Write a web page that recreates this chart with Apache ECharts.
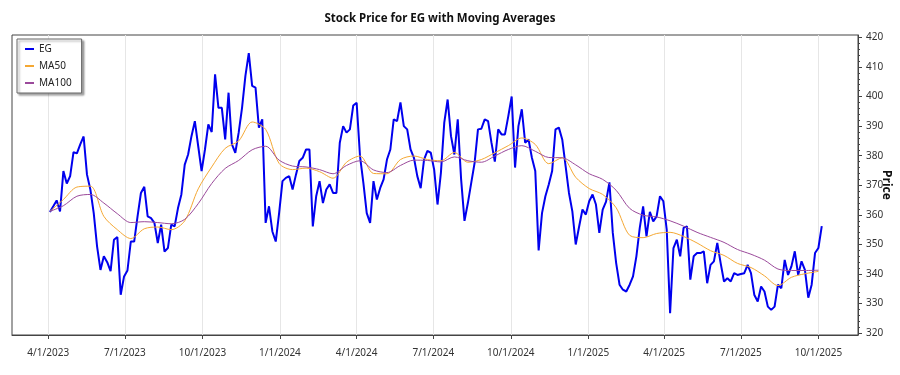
<!DOCTYPE html>
<html>
<head>
<meta charset="utf-8">
<title>Stock Price for EG with Moving Averages</title>
<script src="https://cdn.jsdelivr.net/npm/echarts@6/dist/echarts.min.js"></script>
<style>
  html, body { margin: 0; padding: 0; background: #fff; }
  #chart { width: 900px; height: 375px; }
</style>
</head>
<body>
<div id="chart"></div>
<script>
// EG close, every 4 days starting 2023-04-03
const priceStart = [2023, 4, 3]
const priceStepDays = 4
const priceValues = [
  361, 362.9, 364.9, 361.2, 374.8, 370.6, 373.1, 381.2, 380.8, 383.8,
  386.5, 373.6, 368.6, 360.6, 349.3, 341.4, 346, 344, 341, 351.6,
  352.5, 333, 339.2, 341.2, 351, 351, 359.5, 367.4, 369.5, 359.5,
  358.9, 357.3, 350.5, 356.7, 347.6, 348.8, 356.7, 356.1, 362.3, 366.9,
  377, 380.4, 386.6, 391.7, 383.2, 374.8, 382.1, 390.6, 388, 407.5,
  396.2, 396.2, 385.5, 401.3, 383.8, 381, 387.8, 396.2, 407, 414.7,
  403.6, 403, 389.5, 392.3, 357.3, 362.9, 354.4, 351, 360.6, 371.4,
  372.5, 373.1, 368.6, 373.6, 378.2, 379.3, 382.1, 382.1, 356.1, 366.3,
  371.4, 364, 368.6, 370.3, 367.4, 367.4, 384.4, 390, 387.8, 388.9,
  397, 397.9, 379.9, 370.8, 360.6, 357.3, 371.4, 365.2, 369.1, 372,
  378.7, 382.1, 392.3, 391.7, 398, 390, 388.9, 382.1, 379.3, 373.1,
  369, 378.7, 381.6, 381, 375.3, 363.5, 374.2, 391.2, 399, 386.6,
  380.4, 392.3, 372, 358, 364, 370.8, 377.6, 388.9, 389.1, 392.3,
  391.7, 384.4, 378, 388.9, 387.2, 387.2, 393.4, 400, 376, 390,
  395.7, 384.4, 385.5, 379.3, 374.8, 348, 360.6, 366.3, 370.3, 374.8,
  388.9, 389.5, 385.5, 376.5, 367.4, 361.2, 350, 356, 361.8, 360.1,
  364.6, 366.9, 363.5, 353.9, 361.8, 364.5, 371, 353.9, 343.7, 336.4,
  334.7, 334.1, 336.4, 339.2, 346, 355.6, 362.9, 352.7, 361, 357.8,
  359.5, 366.3, 364.6, 355, 326.8, 348.8, 351.6, 346, 355.6, 356.1,
  338.1, 346, 347.1, 347.1, 347.7, 336.9, 343.1, 344.3, 350.5, 343.7,
  337.5, 338.6, 337.5, 340.3, 339.7, 340, 340.3, 343.1, 340.3, 332.9,
  330.7, 335.8, 334.1, 329, 327.9, 329, 336.4, 335.2, 344.8, 339.7,
  342.6, 347.7, 339.7, 344.3, 341.4, 332, 336.4, 347.1, 348.8, 356.2
]

// moving averages, read every 16 days from the same start
const maStepDays = 16
const ma50Values = [
  361.2, 365.2, 369.4, 369.7, 359.5, 355, 352, 355.3, 355.9, 355,
  358, 368.8, 376.2, 382.5, 385, 391.4, 388.9, 377.4, 375.3, 375.8,
  374.6, 372.4, 377.8, 379.9, 374, 373.9, 378.7, 379.9, 378.7, 378.3,
  381.1, 377.8, 378.7, 381, 383.4, 386, 383.8, 377.3, 379.3, 372.7,
  368.9, 366.9, 362.4, 353.1, 352.3, 353.7, 354.1, 352.7, 350.5, 347.9,
  346.3, 343.6, 342.2, 339.4, 336.1, 338.9, 340.1, 340.9
]
const ma100Values = [
  361.2, 363.1, 366.3, 366.9, 364, 360.4, 357.4, 357.7, 357.4, 357,
  358.5, 363.8, 370.6, 375.7, 378.4, 382, 383.2, 378.5, 376.5, 376.2,
  375.3, 373.9, 376.7, 378.3, 375.2, 374.3, 376.7, 378.5, 378.4, 377.9,
  379.6, 378.3, 377.8, 379.9, 382.1, 383.4, 381.5, 379.4, 379.3, 376.9,
  373.9, 372, 368.3, 362.2, 359.9, 359.3, 358, 356.2, 354.1, 352.4,
  350.7, 348.3, 346.7, 344.7, 341.7, 341.2, 341.2, 341.3
]

const xTickLabels = ['4/1/2023', '7/1/2023', '10/1/2023', '1/1/2024', '4/1/2024', '7/1/2024',
  '10/1/2024', '1/1/2025', '4/1/2025', '7/1/2025', '10/1/2025']
const yTickValues = [320, 330, 340, 350, 360, 370, 380, 390, 400, 410, 420]

function toTime(y, m, d) { return new Date(y, m - 1, d).getTime() }
function fromLabel(s) {
  const [m, d, y] = s.split('/').map(Number)
  return toTime(y, m, d)
}
function dated(step, values) {
  return values.map((v, i) => [toTime(priceStart[0], priceStart[1], priceStart[2] + i * step), v])
}

const xTickTimes = xTickLabels.map(fromLabel)
const yMinorTicks = []
for (let v = yTickValues[0]; v <= yTickValues[yTickValues.length - 1]; v += 2) {
  if (v % 10 !== 0) yMinorTicks.push(v)
}

const font = "'Segoe UI', 'Noto Sans', sans-serif"
const axisColor = '#444'
const yMin = 319.4
const yMax = 420.8

const chart = echarts.init(document.getElementById('chart'), null, { renderer: 'canvas' })
chart.setOption({
  animation: false,
  backgroundColor: '#fff',
  textStyle: { fontFamily: font },
  title: {
    text: 'Stock Price for EG with Moving Averages',
    left: 435,
    textAlign: 'center',
    top: 8,
    textStyle: { fontSize: 11.5, fontWeight: 'bold', color: '#111', fontFamily: font }
  },
  legend: {
    orient: 'vertical',
    left: 17,
    top: 39,
    icon: 'rect',
    itemWidth: 9,
    itemHeight: 2,
    itemGap: 5,
    padding: [4, 10, 4, 8],
    borderColor: '#666',
    borderWidth: 1,
    backgroundColor: '#fff',
    shadowColor: 'rgba(0,0,0,0.35)',
    shadowBlur: 2,
    shadowOffsetX: 2,
    shadowOffsetY: 2,
    textStyle: { fontSize: 10, color: '#222', lineHeight: 12, fontFamily: font },
    data: ['EG', 'MA50', 'MA100']
  },
  grid: {
    left: 12, right: 42, top: 35, bottom: 40,
    containLabel: false,
    outerBoundsMode: 'none',
    show: true, borderColor: axisColor, borderWidth: 1
  },
  xAxis: {
    type: 'value',
    min: toTime(2023, 2, 17),
    max: toTime(2025, 11, 17),
    axisLine: { lineStyle: { color: axisColor } },
    axisTick: { customValues: xTickTimes, length: 4, lineStyle: { color: axisColor } },
    axisLabel: {
      customValues: xTickTimes,
      margin: 13,
      fontSize: 10,
      color: '#333',
      fontFamily: font,
      formatter: v => {
        const d = new Date(v)
        return (d.getMonth() + 1) + '/' + d.getDate() + '/' + d.getFullYear()
      }
    },
    splitLine: { show: true, lineStyle: { color: '#e6e6e6', width: 1 } }
  },
  yAxis: [{
    type: 'value',
    position: 'right',
    min: yMin,
    max: yMax,
    name: 'Price',
    nameLocation: 'middle',
    nameRotate: -90,
    nameGap: 22,
    nameMoveOverlap: false,
    nameTextStyle: { fontSize: 12, fontWeight: 'bold', color: '#111', fontFamily: font },
    axisLine: { show: true, lineStyle: { color: axisColor } },
    axisTick: { show: true, customValues: yTickValues, length: 4, lineStyle: { color: axisColor } },
    axisLabel: { customValues: yTickValues, fontSize: 10, color: '#333', margin: 8, fontFamily: font },
    splitLine: { show: false }
  }, {
    type: 'value',
    position: 'right',
    min: yMin,
    max: yMax,
    axisLine: { show: false },
    axisTick: { show: true, customValues: yMinorTicks, length: 2, lineStyle: { color: axisColor } },
    axisLabel: { show: false },
    splitLine: { show: false }
  }],
  series: [{
    name: 'EG',
    type: 'line',
    showSymbol: false,
    lineStyle: { color: '#0000ee', width: 2 },
    itemStyle: { color: '#0000ee' },
    data: dated(priceStepDays, priceValues)
  }, {
    name: 'MA50',
    type: 'line',
    showSymbol: false,
    smooth: 0.3,
    lineStyle: { color: '#f5a833', width: 1 },
    itemStyle: { color: '#f5a833' },
    data: dated(maStepDays, ma50Values)
  }, {
    name: 'MA100',
    type: 'line',
    showSymbol: false,
    smooth: 0.3,
    lineStyle: { color: '#9b4a9b', width: 1 },
    itemStyle: { color: '#9b4a9b' },
    data: dated(maStepDays, ma100Values)
  }]
})
</script>
</body>
</html>
